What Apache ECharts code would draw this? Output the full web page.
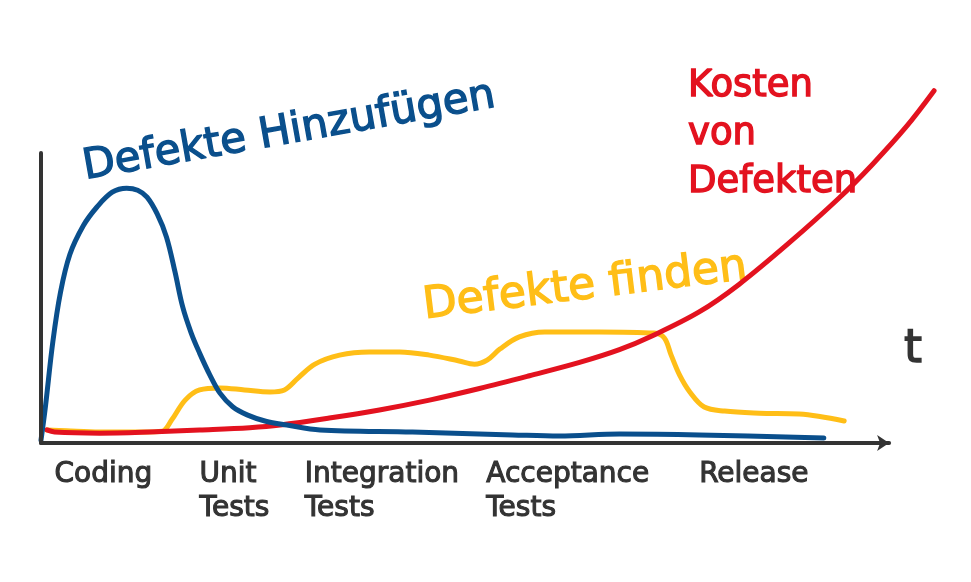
<!DOCTYPE html>
<html>
<head>
<meta charset="utf-8">
<script src="https://cdn.jsdelivr.net/npm/echarts@6/dist/echarts.min.js"></script>
<style>
html,body{margin:0;padding:0;background:#fff;}
#chart{width:971px;height:582px;}
</style>
</head>
<body>
<div id="chart"></div>
<script>
// Phase labels on the time axis (x position = left edge of label)
var phaseLabels = ['Coding', 'Unit\nTests', 'Integration\nTests', 'Acceptance\nTests', 'Release'];
var phasePositions = [1.6, 18.7, 31.1, 52.5, 77.6];

// Axis extents (time axis drawn 0..100, vertical axis drawn 0..100)
var timeAxisEnd = 100;
var valueAxisEnd = 100;

// Defekte Hinzufügen (blue)
var addDefects = [
  [0, 1], [0.5, 12], [1.4, 35], [2.3, 52], [3.4, 65], [5, 75], [6.6, 81.4], [8.4, 86.5], [10.1, 87.9],
  [11.4, 87.2], [12.5, 84.8], [13.7, 79], [14.8, 71], [15.8, 59], [16.7, 47], [17.7, 38],
  [18.7, 31], [19.9, 23.5], [21.1, 17.2], [22.6, 12.5], [24.3, 9.7], [26.5, 7.5], [29, 6.2],
  [32.9, 4.5], [43.8, 3.8], [55.6, 2.8], [61.1, 2.4], [68.2, 3.1], [77.6, 2.8], [92.3, 1.7]
];

// Defekte finden (yellow)
var findDefects = [
  [0.7, 4.5], [3, 4.2], [6.9, 3.8], [12, 3.8], [14.3, 4.1], [15.4, 7.9], [17, 14.8], [18.7, 18.3],
  [21.1, 19], [24, 18.3], [27, 17.6], [28.7, 18.3], [30.3, 22.4], [32.3, 27.2], [35.2, 30.3],
  [38.7, 31.4], [42.3, 31.4], [45.8, 30.3], [49.3, 28.3], [51.1, 27.2], [52.6, 28.6], [54.1, 32.4],
  [56.4, 36.6], [59.4, 38.3], [65.8, 38.3], [72.3, 37.9], [73.5, 36.2], [74.3, 30.3], [75.3, 23.4],
  [76.5, 17.6], [78.2, 12.4], [80.6, 11], [84.7, 10.3], [89.4, 10], [94.7, 7.6]
];

// Kosten von Defekten (red)
var defectCost = [
  [0.7, 4.5], [1.6, 3.8], [6.9, 3.4], [12.8, 3.8], [18.7, 4.5], [24.6, 5.3], [28.2, 6.2],
  [34, 8.6], [39.9, 11.4], [45.8, 14.8], [51.7, 18.8], [57.6, 23.2], [63.5, 27.8], [68.2, 32.2],
  [72.1, 37], [77.6, 45.2], [82.3, 54.7], [88.2, 69], [94.1, 84.5], [98, 96], [102, 109], [105.3, 121.5]
];

var BLUE = '#0a4f8c', YELLOW = '#ffbe17', RED = '#e3121f', INK = '#333333';
var HAND = '"DejaVu Sans", sans-serif';

function note(x, y, deg, text, color, size, extra) {
  var st = { text: text, fill: color, stroke: color, lineWidth: 1.4, font: size + 'px ' + HAND,
             align: 'center', verticalAlign: 'middle' };
  if (extra) for (var k in extra) st[k] = extra[k];
  return { type: 'text', x: x, y: y, rotation: deg * Math.PI / 180, style: st };
}

var chart = echarts.init(document.getElementById('chart'));
chart.setOption({
  backgroundColor: '#ffffff',
  animation: false,
  grid: { left: 41, right: 31, top: 80, bottom: 139 },
  xAxis: {
    type: 'value', min: 0, max: 106,
    splitLine: { show: false },
    axisTick: { show: false },
    axisLine: { show: false },
    axisLabel: {
      customValues: phasePositions,
      formatter: function (v) {
        for (var i = 0; i < phasePositions.length; i++) {
          if (Math.abs(phasePositions[i] - v) < 1e-6) return phaseLabels[i];
        }
        return '';
      },
      align: 'left', verticalAlign: 'top', margin: 15,
      color: INK, fontSize: 28, lineHeight: 34, fontFamily: HAND,
      textBorderColor: INK, textBorderWidth: 1.1
    }
  },
  yAxis: {
    type: 'value', min: 0, max: 125.2,
    splitLine: { show: false },
    axisTick: { show: false },
    axisLabel: { show: false },
    axisLine: { show: false }
  },
  series: [
    { name: 'Achsen', type: 'line', data: [], silent: true,
      markLine: {
        silent: true, animation: false,
        label: { show: false },
        lineStyle: { color: INK, width: 4, type: 'solid', cap: 'round' },
        data: [
          [{ coord: [0, 0], symbol: 'none' }, { coord: [timeAxisEnd, 0], symbol: 'arrow', symbolSize: 12 }],
          [{ coord: [0, 0], symbol: 'none' }, { coord: [0, valueAxisEnd], symbol: 'none' }]
        ]
      }
    },
    { name: 'Defekte finden', type: 'line', data: findDefects, smooth: 0.35, showSymbol: false, clip: false,
      lineStyle: { color: YELLOW, width: 5, cap: 'round', join: 'round' } },
    { name: 'Kosten von Defekten', type: 'line', data: defectCost, smooth: 0.35, showSymbol: false, clip: false,
      lineStyle: { color: RED, width: 5, cap: 'round', join: 'round' } },
    { name: 'Defekte Hinzufügen', type: 'line', data: addDefects, smooth: 0.35, showSymbol: false, clip: false,
      lineStyle: { color: BLUE, width: 5, cap: 'round', join: 'round' } }
  ],
  graphic: [
    note(289, 132, 10, 'Defekte Hinzufügen', BLUE, 42),
    note(585, 287, 7, 'Defekte finden', YELLOW, 44),
    note(688, 62, 0, 'Kosten\nvon\nDefekten', RED, 37, { align: 'left', verticalAlign: 'top', lineHeight: 48 }),
    note(913, 350, 0, 't', INK, 46)
  ]
});
</script>
</body>
</html>
